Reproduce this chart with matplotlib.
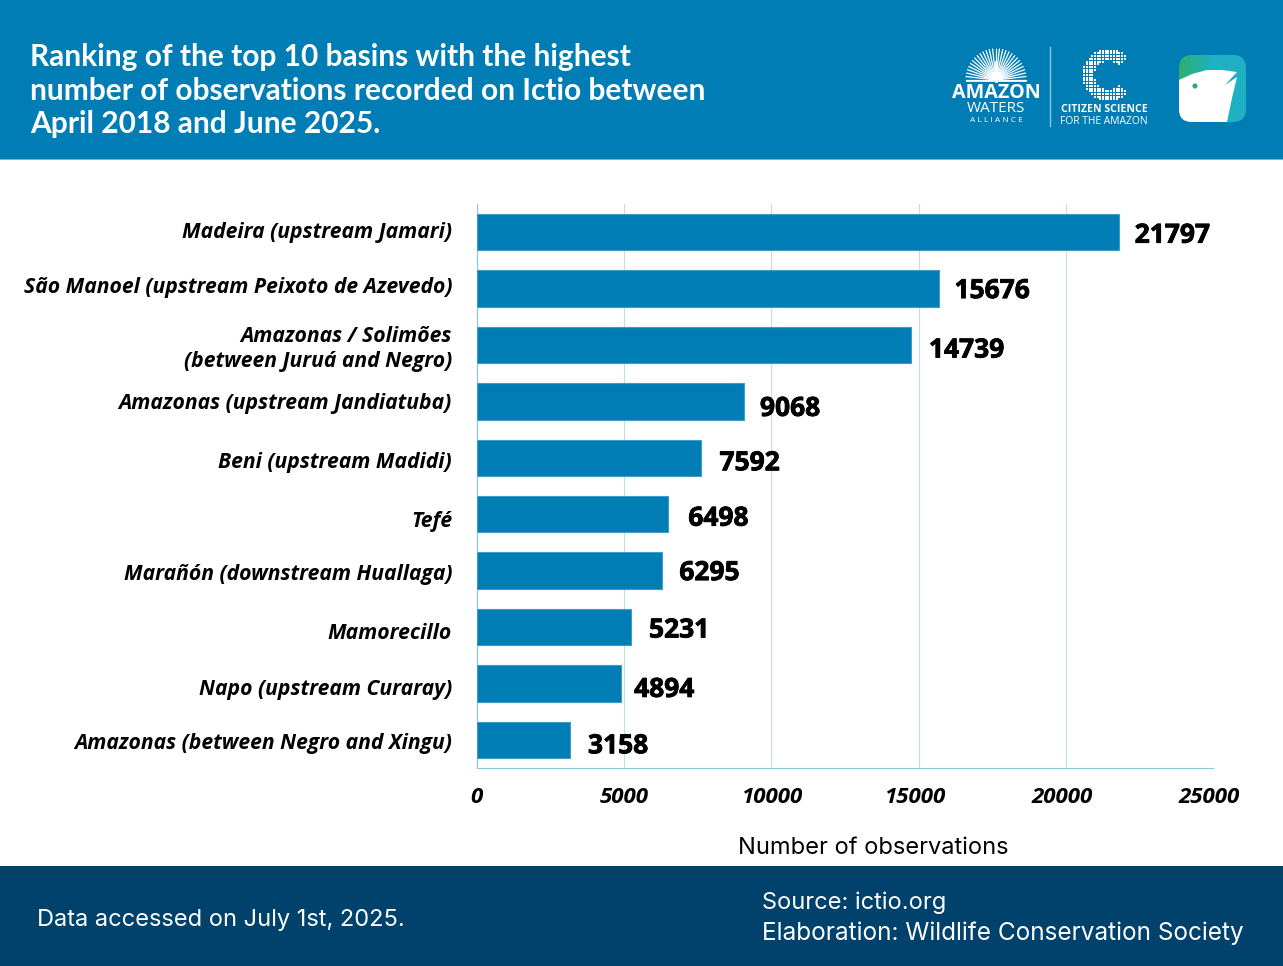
import matplotlib
matplotlib.use("Agg")
import matplotlib.pyplot as plt
import matplotlib.patheffects as pe
import matplotlib.transforms as mtrans
import numpy as np
from matplotlib.patches import FancyBboxPatch, Polygon, Rectangle, Circle

basins = ["Madeira (upstream Jamari)",
          "São Manoel (upstream Peixoto de Azevedo)",
          "Amazonas / Solimões\n(between Juruá and Negro)",
          "Amazonas (upstream Jandiatuba)",
          "Beni (upstream Madidi)",
          "Tefé",
          "Marañón (downstream Huallaga)",
          "Mamorecillo",
          "Napo (upstream Curaray)",
          "Amazonas (between Negro and Xingu)"]
observations = [21797, 15676, 14739, 9068, 7592, 6498, 6295, 5231, 4894, 3158]
xticks = [0, 5000, 10000, 15000, 20000, 25000]

title = ("Ranking of the top 10 basins with the highest\n"
         "number of observations recorded on Ictio between\n"
         "April 2018 and June 2025.")

W, H = 1283, 966
BLUE = "#007DB5"
DARK = "#00426C"
GRID = "#BFDDEC"
HEAD_FONT = "Lato"
BODY_FONT = "Inter"

fig = plt.figure(figsize=(W / 100, H / 100), dpi=100, facecolor="white")

# background layer in pixel coordinates
bg = fig.add_axes([0, 0, 1, 1])
bg.set_xlim(0, W)
bg.set_ylim(H, 0)
bg.axis("off")
bg.add_patch(Rectangle((0, 0), W, 159, color=BLUE, lw=0))
bg.add_patch(Rectangle((0, 159), W, 1, color="#6FB9DA", lw=0))
bg.add_patch(Rectangle((0, 866), W, 100, color=DARK, lw=0))

for i, line in enumerate(title.split("\n")):
    bg.text(30, 57 + i * 33.5, line, color="white", fontsize=21.5, family=HEAD_FONT,
            fontweight="bold", va="center", ha="left")

bg.text(37, 920, "Data accessed on July 1st, 2025.", color="white", fontsize=17,
        family=BODY_FONT, va="center")
bg.text(762, 903, "Source: ictio.org", color="white", fontsize=17, family=BODY_FONT, va="center")
bg.text(762, 933, "Elaboration: Wildlife Conservation Society", color="white", fontsize=17.5,
        family=BODY_FONT, va="center")
bg.text(873, 848, "Number of observations", color="black", fontsize=17, family=BODY_FONT,
        va="center", ha="center")

# amazon waters logo
for a in np.linspace(0, np.pi, 29):
    bg.plot([996, 996 + 30 * np.cos(a)], [80, 80 - 31 * np.sin(a)], color="white", lw=0.9)
bg.plot([996, 996], [81, 62], color="white", lw=2)
bg.plot([967, 1026], [81, 81], color="white", lw=1.2)
bg.text(996, 93, "AMAZON", color="white", fontsize=14.2, family="Open Sans", fontweight="bold",
        ha="center", va="center")
bg.text(996, 109, "WATERS", color="white", fontsize=11, family="Open Sans", ha="center", va="center")
bg.text(996, 121, "A L L I A N C E", color="white", fontsize=6, family="Open Sans", ha="center", va="center")
bg.plot([1050, 1050], [47, 126], color="#8CC6E0", lw=1)

# citizen science logo, the dotted C
gx, gy = np.meshgrid(np.arange(1076, 1132, 2.7), np.arange(48, 104, 2.7))
rr = np.hypot(gx - 1108, gy - 75)
ang = np.degrees(np.arctan2(75 - gy, gx - 1108)) % 360
keep = (rr > 14) & (rr < 26) & (ang > 42) & (ang < 318)
bg.scatter(gx[keep], gy[keep], s=2.5, marker="s", color="white", lw=0)
bg.text(1104, 110, "CITIZEN SCIENCE", color="white", fontsize=7.6, family="Open Sans",
        fontweight="bold", ha="center", va="center")
bg.text(1104, 121, "FOR THE AMAZON", color="white", fontsize=7.4, family="Open Sans",
        ha="center", va="center")

# ictio app icon
box = FancyBboxPatch((1179, 55), 67, 67, boxstyle="round,pad=0,rounding_size=13", lw=0,
                     facecolor="none")
bg.add_patch(box)
grad = np.linspace(0, 1, 100).reshape(1, -1)
cmap = matplotlib.colors.LinearSegmentedColormap.from_list("ic", ["#2FAE6E", "#1FB0C4", "#1FB0C4"])
im = bg.imshow(grad, extent=(1179, 1246, 122, 55), cmap=cmap, aspect="auto", zorder=2)
im.set_clip_path(box)
fish = Polygon([(1179, 80), (1192, 74), (1207, 70), (1222, 70), (1237, 72), (1225, 85), (1237, 77),
                (1232, 98), (1227, 122), (1179, 122)], color="white", lw=0, zorder=3)
bg.add_patch(fish)
fish.set_clip_path(box)
bg.add_patch(Circle((1195, 86), 2.6, color="#2FAE6E", lw=0, zorder=4))
bg.set_xlim(0, W)
bg.set_ylim(H, 0)

# chart
ax = fig.add_axes([477 / W, 1 - 768 / H, (1213 - 477) / W, (768 - 204) / H])
ax.patch.set_alpha(0)
ypos = np.arange(len(basins))
ax.barh(ypos, observations, height=0.645, color=BLUE, edgecolor="#3F9CC8", linewidth=0.8, zorder=3)
ax.set_xlim(0, 25000)
ax.set_ylim(len(basins) - 0.5, -0.5)
ax.set_xticks(xticks)
ax.grid(axis="x", color=GRID, lw=0.8, zorder=0)
for s in ("top", "right"):
    ax.spines[s].set_visible(False)
ax.spines["left"].set_color("#8CC6E0")
ax.spines["bottom"].set_color("#8CC6E0")
ax.tick_params(length=0)
ax.set_yticks(ypos)
ax.set_yticklabels(basins, family="Open Sans", fontweight="bold", style="italic", fontsize=15.2,
                   linespacing=1.2, ha="right")
ax.tick_params(axis="y", pad=18)
ax.set_xticklabels([str(t) for t in xticks], family="Open Sans", fontweight="bold", style="italic",
                   fontsize=16)
ax.tick_params(axis="x", pad=14)

# labels are hand placed in the original, nudge them in pixels
ylab_dy = [-2, -4, 0, 0, 2, 5, 1, 4, 4, 1]
for lab, d in zip(ax.get_yticklabels(), ylab_dy):
    lab.set_transform(lab.get_transform() + mtrans.ScaledTranslation(0, -d / 100, fig.dpi_scale_trans))
xlab_dx = [-1, 0, 0, -4, -4, -4]
for lab, d in zip(ax.get_xticklabels(), xlab_dx):
    lab.set_transform(lab.get_transform() + mtrans.ScaledTranslation(d / 100, 0, fig.dpi_scale_trans))

dx = [16, 16, 18, 16, 19, 20, 17, 18, 13, 18]
dy = [3, 2, 5, 7, 5, 4, 2, 3, 6, 6]
for y, v, a, b in zip(ypos, observations, dx, dy):
    t = ax.annotate(str(v), (v, y), xytext=(a * 0.72, -b * 0.72), textcoords="offset points",
                    family="Open Sans", fontweight="bold", fontsize=19, va="center", ha="left",
                    color="black", zorder=5)
    t.set_path_effects([pe.withStroke(linewidth=0.6, foreground="black")])

fig.savefig("out.png", dpi=100)
